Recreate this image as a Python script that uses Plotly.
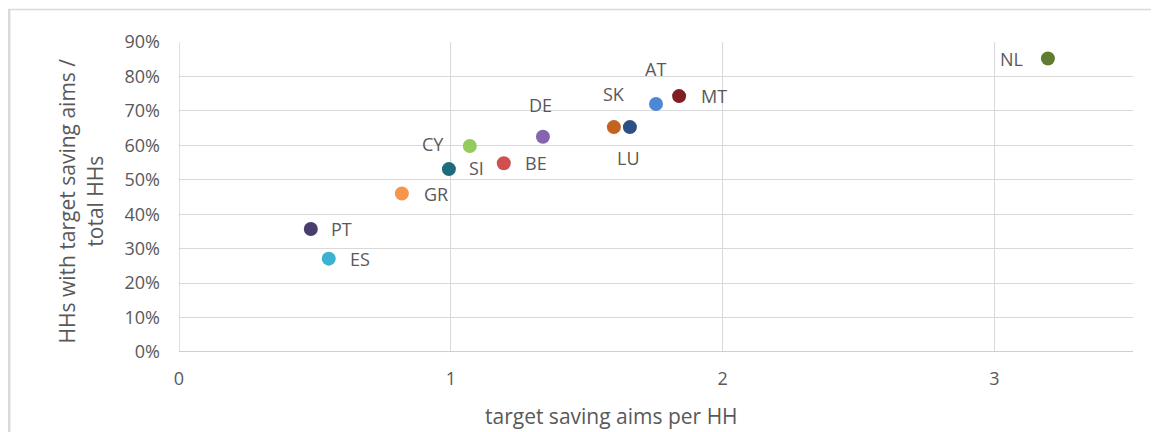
import plotly.graph_objects as go

# ---- data ----
countries = ["PT", "ES", "GR", "SI", "CY", "BE", "DE", "SK", "LU", "AT", "MT", "NL"]
aims_per_hh = [0.485, 0.551, 0.820, 0.993, 1.070, 1.195, 1.339, 1.600, 1.659, 1.755, 1.840, 3.197]
share_hh = [0.357, 0.271, 0.460, 0.531, 0.598, 0.548, 0.625, 0.653, 0.653, 0.720, 0.743, 0.852]
x_ticks = [0, 1, 2, 3]
y_ticks = [0.0, 0.1, 0.2, 0.3, 0.4, 0.5, 0.6, 0.7, 0.8, 0.9]
x_title = "target saving aims per HH"
y_title = "HHs with target saving aims /<br>total HHs"

# ---- styles ----
colors = ["#4a3d6e", "#3db2d0", "#f7954a", "#1f6b7e", "#93cb5c", "#d0504f", "#8565b0",
          "#c4621f", "#2c5085", "#4c88d6", "#7f1f22", "#5e7d32"]
# label offsets in pixels (dx right, dy up)
label_dx = [31, 31, 34, 28, -37, 32, -2, 0, -1, -1, 35, -36]
label_dy = [0, 0, 0, 1, 2, 0, 32, 33, -31, 35, 0, 0]

FONT = "Open Sans, sans-serif"
GREY = "#595959"

fig = go.Figure()
fig.add_trace(go.Scatter(
    x=aims_per_hh, y=share_hh, mode="markers",
    marker=dict(size=14, color=colors),
    showlegend=False, cliponaxis=False, hoverinfo="text", text=countries,
))

annotations = []
for c, xv, yv, dx, dy in zip(countries, aims_per_hh, share_hh, label_dx, label_dy):
    annotations.append(dict(
        x=xv, y=yv, xref="x", yref="y", text=c, showarrow=False,
        xshift=dx, yshift=dy, font=dict(family=FONT, size=18, color=GREY),
    ))
# axis titles
annotations.append(dict(
    x=0.453, y=0, xref="paper", yref="paper", text=x_title, showarrow=False,
    xanchor="center", yanchor="middle", yshift=-64,
    font=dict(family=FONT, size=21, color=GREY),
))
annotations.append(dict(
    x=-0.1033, y=0.5, xref="paper", yref="paper", text=y_title, showarrow=False,
    xanchor="center", yanchor="middle", yshift=-4, textangle=-90,
    font=dict(family=FONT, size=21, color=GREY),
))

fig.update_layout(
    width=1151, height=424,
    margin=dict(l=171, r=26, t=34, b=80),
    plot_bgcolor="white", paper_bgcolor="white",
    font=dict(family=FONT, color=GREY, size=18),
    annotations=annotations,
    xaxis=dict(range=[0, 3.51], tickvals=x_ticks, ticktext=[str(v) for v in x_ticks],
               showgrid=True, gridcolor="#d9d9d9", gridwidth=1, zeroline=False,
               showline=False, ticks="", ticklabelstandoff=14,
               tickfont=dict(size=18)),
    yaxis=dict(range=[0, 0.9], tickvals=y_ticks, tickformat=".0%",
               showgrid=True, gridcolor="#d9d9d9", gridwidth=1, zeroline=False,
               showline=False, ticks="", ticklabelstandoff=18,
               tickfont=dict(size=18)),
    shapes=[
        dict(type="line", xref="x", yref="y", x0=0, x1=0, y0=0, y1=0.9,
             line=dict(color="#bfbfbf", width=1)),
        dict(type="line", xref="x", yref="y", x0=0, x1=3.51, y0=0, y1=0,
             line=dict(color="#bfbfbf", width=1.5)),
        dict(type="line", xref="paper", yref="paper", x0=-0.18, x1=1.03, y0=1.105, y1=1.105,
             line=dict(color="#d9d9d9", width=1.5), layer="below"),
        dict(type="line", xref="paper", yref="paper", x0=-0.178, x1=-0.178, y0=1.105, y1=-0.3,
             line=dict(color="#d9d9d9", width=2.5), layer="below"),
    ],
)

fig.write_html("out.html")
